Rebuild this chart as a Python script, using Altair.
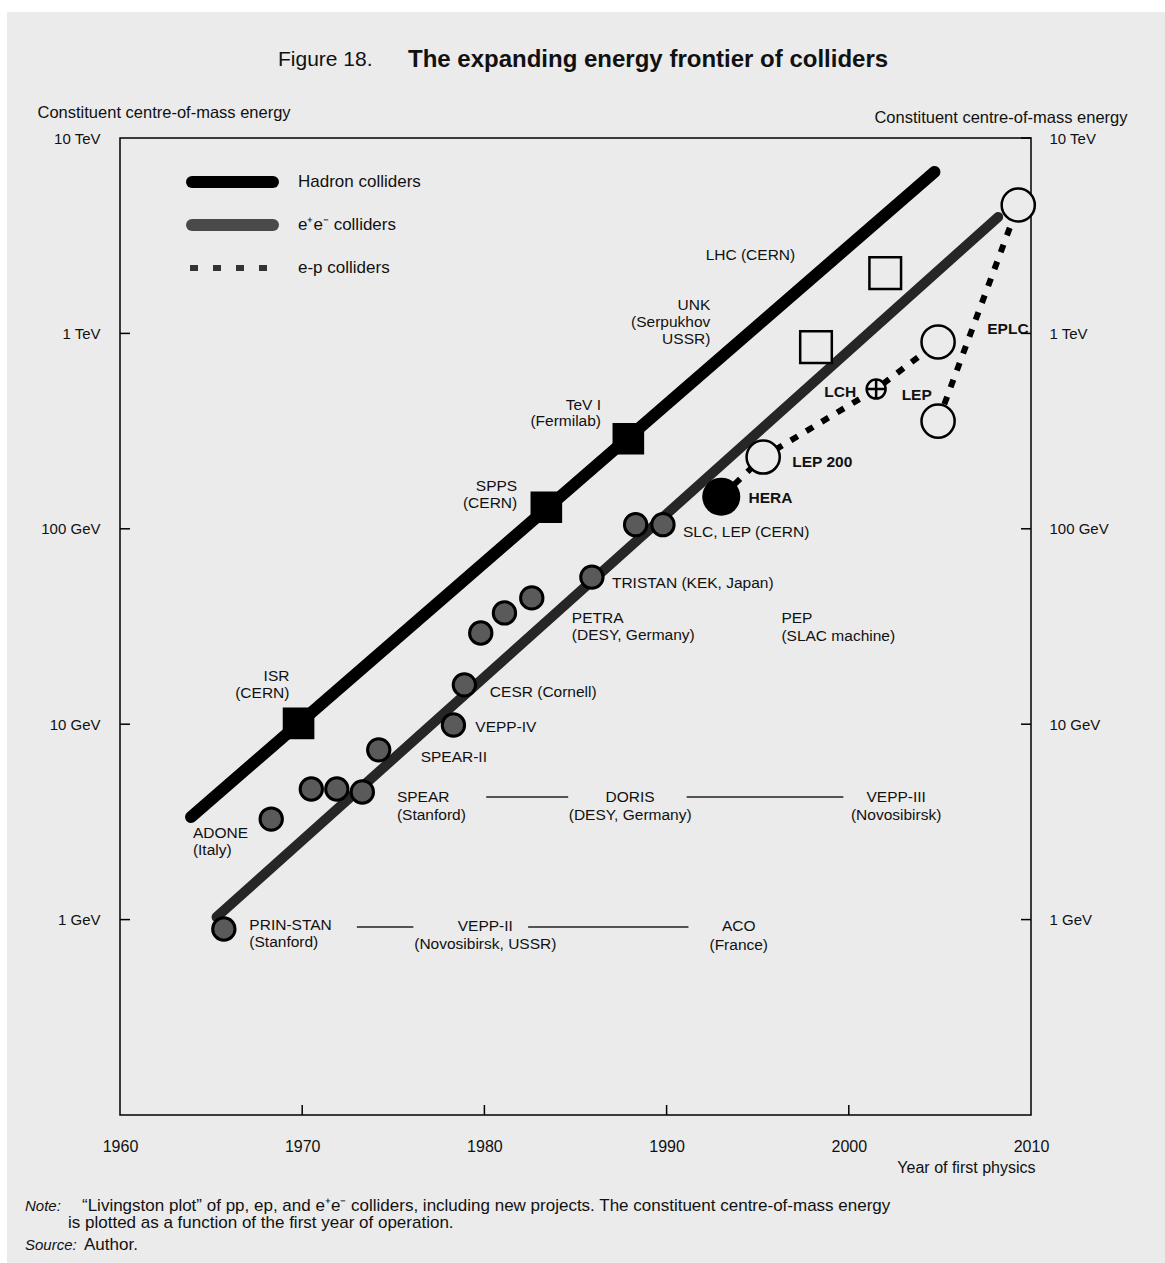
import altair as alt
import pandas as pd

BG = "#ebebeb"
FONT = "Liberation Sans"

# ---------------- data ----------------
# Hadron colliders (built)
hadron_names = ["ISR", "SPPS", "TeV I"]
hadron_years = [1969.8, 1983.4, 1987.9]
hadron_energy = [10.1, 129, 289]
# Hadron colliders (projects)
hadron_proj_names = ["UNK", "LHC"]
hadron_proj_years = [1998.2, 2002.0]
hadron_proj_energy = [851, 2036]
# Hadron trend line
hadron_trend_years = [1963.9, 2004.7]
hadron_trend_energy = [3.35, 6700]

# e+e- colliders
ee_names = ["PRIN-STAN", "ADONE", "ACO/VEPP-II", "VEPP-III", "SPEAR", "SPEAR-II",
            "VEPP-IV", "CESR", "PETRA a", "PETRA b", "PETRA c", "TRISTAN", "SLC", "LEP"]
ee_years = [1965.7, 1968.3, 1970.5, 1971.9, 1973.3, 1974.2,
            1978.3, 1978.9, 1979.8, 1981.1, 1982.6, 1985.9, 1988.3, 1989.8]
ee_energy = [0.895, 3.27, 4.66, 4.66, 4.5, 7.39,
             9.9, 15.9, 29.3, 37.1, 44.3, 56.6, 105, 105]
# e+e- trend line
ee_trend_years = [1965.3, 2008.2]
ee_trend_energy = [1.03, 3945]

# e-p colliders
hera_year = [1993.0]
hera_energy = [146]
ep_open_names = ["LEP 200", "LEP+LHC upper", "LEP", "EPLC"]
ep_open_years = [1995.3, 2004.9, 2004.9, 2009.3]
ep_open_energy = [233, 904, 356, 4540]
lch_year = [2001.5]
lch_energy = [519]
# dotted e-p paths
ep_path = ["A", "A", "A", "A", "B", "B"]
ep_path_years = [1993.0, 1995.3, 2001.5, 2004.9, 2004.9, 2009.3]
ep_path_energy = [146, 233, 519, 904, 356, 4540]

# Separator rules between collider names
sep_years = [1973.0, 1982.4, 1980.1, 1991.1]
sep_years2 = [1976.1, 1991.2, 1984.6, 1999.7]
sep_energy = [0.916, 0.916, 4.24, 4.24]

# Annotation labels (text, year, energy, align, weight)
labels = [
    ("LHC (CERN)", 1994.6, 2518, "center", "normal"),
    ("UNK", 1992.4, 1390, "right", "normal"),
    ("(Serpukhov", 1992.4, 1143, "right", "normal"),
    ("USSR)", 1992.4, 940, "right", "normal"),
    ("TeV I", 1986.4, 432, "right", "normal"),
    ("(Fermilab)", 1986.4, 355, "right", "normal"),
    ("SPPS", 1981.8, 165, "right", "normal"),
    ("(CERN)", 1981.8, 135, "right", "normal"),
    ("ISR", 1969.3, 17.6, "right", "normal"),
    ("(CERN)", 1969.3, 14.4, "right", "normal"),
    ("ADONE", 1964.0, 2.79, "left", "normal"),
    ("(Italy)", 1964.0, 2.28, "left", "normal"),
    ("PRIN-STAN", 1967.1, 0.938, "left", "normal"),
    ("(Stanford)", 1967.1, 0.767, "left", "normal"),
    ("VEPP-II", 1980.05, 0.927, "center", "normal"),
    ("(Novosibirsk, USSR)", 1980.05, 0.750, "center", "normal"),
    ("ACO", 1993.96, 0.927, "center", "normal"),
    ("(France)", 1993.96, 0.740, "center", "normal"),
    ("SPEAR", 1975.2, 4.24, "left", "normal"),
    ("(Stanford)", 1975.2, 3.43, "left", "normal"),
    ("DORIS", 1988.0, 4.24, "center", "normal"),
    ("(DESY, Germany)", 1988.0, 3.43, "center", "normal"),
    ("VEPP-III", 2002.6, 4.24, "center", "normal"),
    ("(Novosibirsk)", 2002.6, 3.43, "center", "normal"),
    ("SPEAR-II", 1976.5, 6.79, "left", "normal"),
    ("VEPP-IV", 1979.5, 9.68, "left", "normal"),
    ("CESR (Cornell)", 1980.3, 14.6, "left", "normal"),
    ("PETRA", 1984.8, 34.9, "left", "normal"),
    ("(DESY, Germany)", 1984.8, 28.6, "left", "normal"),
    ("PEP", 1996.3, 34.9, "left", "normal"),
    ("(SLAC machine)", 1996.3, 28.2, "left", "normal"),
    ("TRISTAN (KEK, Japan)", 1987.0, 52.9, "left", "normal"),
    ("SLC, LEP (CERN)", 1990.9, 96, "left", "normal"),
    ("HERA", 1994.5, 144, "left", "bold"),
    ("LEP 200", 1996.9, 220, "left", "bold"),
    ("LCH", 2000.4, 501, "right", "bold"),
    ("LEP", 2002.9, 484, "left", "bold"),
    ("EPLC", 2007.6, 1054, "left", "bold"),
]

tick_energies = [1, 10, 100, 1000]
tick_years = [1970, 1980, 1990, 2000]
axis_energies = [1, 10, 100, 1000, 10000]
axis_years = [1960, 1970, 1980, 1990, 2000, 2010]

W, H = 911, 977
PAD = {"left": 120, "top": 138, "right": 134, "bottom": 148}

# ---------------- scales / axes ----------------
XSCALE = alt.Scale(domain=[1960, 2010], nice=False, zero=False)
YSCALE = alt.Scale(type="log", domain=[0.1, 10000], nice=False)
label_expr = "datum.value >= 1000 ? format(datum.value/1000, 'd') + ' TeV' : format(datum.value, 'd') + ' GeV'"

x_axis = alt.Axis(values=axis_years, format="d", ticks=False, domain=False, grid=False, zindex=2,
                  labelFont=FONT, labelFontSize=16, labelColor="#111", labelPadding=23,
                  labelFlush=False, labelOverlap=False,
                  title="Year of first physics", titleFont=FONT, titleFontSize=16,
                  titleFontWeight="normal", titleColor="#111", titleAlign="right",
                  titleX=W + 4, titleY=52, titleBaseline="middle")
y_axis_left = alt.Axis(values=axis_energies, labelExpr=label_expr, ticks=False, domain=False,
                       grid=False, orient="left", zindex=2, labelFont=FONT, labelFontSize=15,
                       labelColor="#111", labelPadding=20, labelFlush=False, labelOverlap=False,
                       title="Constituent centre-of-mass energy", titleFont=FONT,
                       titleFontSize=16.5, titleFontWeight="normal", titleColor="#111",
                       titleAngle=0, titleAlign="left", titleBaseline="middle",
                       titleX=-83, titleY=-26)
y_axis_right = alt.Axis(values=axis_energies, labelExpr=label_expr, ticks=False, domain=False,
                        grid=False, orient="right", zindex=2, labelFont=FONT, labelFontSize=15,
                        labelColor="#111", labelPadding=18, labelFlush=False, labelOverlap=False,
                        title="Constituent centre-of-mass energy", titleFont=FONT,
                        titleFontSize=16.5, titleFontWeight="normal", titleColor="#111",
                        titleAngle=0, titleAlign="right", titleBaseline="middle",
                        titleX=96, titleY=-21)


def X(f="year"):
    return alt.X(f, type="quantitative", scale=XSCALE, axis=x_axis)


def Y(f="energy"):
    return alt.Y(f, type="quantitative", scale=YSCALE, axis=y_axis_left)


one = pd.DataFrame({"k": [0]})

# ---------------- layers ----------------
# scanned page area (white margin at top/left like the scan)
page = alt.Chart(one).mark_rect(fill=BG).encode(
    x=alt.value(7 - PAD["left"]), x2=alt.value(W + PAD["right"]),
    y=alt.value(12 - PAD["top"]), y2=alt.value(H + PAD["bottom"]))
frame = alt.Chart(one).mark_rect(filled=False, stroke="black", strokeWidth=1.5, fill=None).encode(
    x=alt.value(0), x2=alt.value(W), y=alt.value(0), y2=alt.value(H))

hadron_trend = alt.Chart(pd.DataFrame({"year": hadron_trend_years, "energy": hadron_trend_energy})).mark_line(
    color="black", strokeWidth=12, strokeCap="round").encode(x=X(), y=Y())
ee_trend = alt.Chart(pd.DataFrame({"year": ee_trend_years, "energy": ee_trend_energy})).mark_line(
    color="#262626", strokeWidth=10, strokeCap="round").encode(x=X(), y=Y())
ep_lines = alt.Chart(pd.DataFrame({"path": ep_path, "year": ep_path_years, "energy": ep_path_energy})).mark_line(
    color="black", strokeWidth=6, strokeDash=[8, 10]).encode(x=X(), y=Y(), detail="path:N")

hadron_sq = alt.Chart(pd.DataFrame({"name": hadron_names, "year": hadron_years, "energy": hadron_energy})).mark_square(
    filled=True, color="black", size=1000, opacity=1).encode(x=X(), y=Y())
hadron_proj = alt.Chart(pd.DataFrame({"name": hadron_proj_names, "year": hadron_proj_years, "energy": hadron_proj_energy})).mark_square(
    filled=True, fill=BG, stroke="black", strokeWidth=2.5, size=1000, opacity=1).encode(x=X(), y=Y())
ee_pts = alt.Chart(pd.DataFrame({"name": ee_names, "year": ee_years, "energy": ee_energy})).mark_circle(
    fill="#5a5a5a", stroke="black", strokeWidth=3, size=500, opacity=1).encode(x=X(), y=Y())
hera = alt.Chart(pd.DataFrame({"year": hera_year, "energy": hera_energy})).mark_circle(
    color="black", size=1450, opacity=1).encode(x=X(), y=Y())
ep_open = alt.Chart(pd.DataFrame({"name": ep_open_names, "year": ep_open_years, "energy": ep_open_energy})).mark_circle(
    fill=BG, stroke="black", strokeWidth=2.5, size=1100, opacity=1).encode(x=X(), y=Y())
lch_circle = alt.Chart(pd.DataFrame({"year": lch_year, "energy": lch_energy})).mark_circle(
    fill=BG, stroke="black", strokeWidth=2.5, size=360, opacity=1).encode(x=X(), y=Y())
lch_cross = alt.Chart(pd.DataFrame({"year": lch_year, "energy": lch_energy})).mark_point(
    shape="M-1,0L1,0M0,-1L0,1", filled=False, stroke="black", strokeWidth=2.5, size=360, opacity=1).encode(x=X(), y=Y())

seps = alt.Chart(pd.DataFrame({"year": sep_years, "year2": sep_years2, "energy": sep_energy})).mark_rule(
    color="#222", strokeWidth=1.5).encode(x=X(), x2="year2:Q", y=Y())

lab_df = pd.DataFrame(labels, columns=["text", "year", "energy", "align", "weight"])
text_layers = []
for (al, wt), sub in lab_df.groupby(["align", "weight"]):
    text_layers.append(
        alt.Chart(sub).mark_text(align=al, baseline="middle", font=FONT, fontSize=15.5,
                                 fontWeight=wt, color="#111").encode(x=X(), y=Y(), text="text:N"))

left_ticks = alt.Chart(pd.DataFrame({"energy": tick_energies})).mark_rule(color="black", strokeWidth=1.5).encode(
    y=Y(), x=alt.value(0), x2=alt.value(10))
bottom_ticks = alt.Chart(pd.DataFrame({"year": tick_years})).mark_rule(color="black", strokeWidth=1.5).encode(
    x=X(), y=alt.value(H), y2=alt.value(H - 10))

# legend
leg_h = alt.Chart(one).mark_rule(color="black", strokeWidth=12, strokeCap="round").encode(
    x=alt.value(72), x2=alt.value(153), y=alt.value(44))
leg_e = alt.Chart(one).mark_rule(color="#4a4a4a", strokeWidth=12, strokeCap="round").encode(
    x=alt.value(72), x2=alt.value(153), y=alt.value(87))
leg_p = alt.Chart(one).mark_rule(color="#333", strokeWidth=6, strokeDash=[8, 15]).encode(
    x=alt.value(70), x2=alt.value(155), y=alt.value(130))
leg_text = alt.Chart(pd.DataFrame({"t": ["Hadron colliders", "e\u207ae\u207b colliders", "e-p colliders"],
                                   "py": [44, 87, 130]})).mark_text(
    align="left", baseline="middle", font=FONT, fontSize=17, color="#111").encode(
    x=alt.value(178), y=alt.Y("py:Q", scale=None), text="t:N")

# page texts (title and notes)
title1 = alt.Chart(one).mark_text(align="left", baseline="middle", font=FONT, fontSize=21, color="#111").encode(
    x=alt.value(158), y=alt.value(-78), text=alt.value("Figure 18."))
title2 = alt.Chart(one).mark_text(align="left", baseline="middle", font=FONT, fontSize=24, fontWeight="bold",
                                  color="#111").encode(
    x=alt.value(288), y=alt.value(-78), text=alt.value("The expanding energy frontier of colliders"))
note_it = alt.Chart(pd.DataFrame({"t": ["Note:", "Source:"], "py": [1068, 1107]})).mark_text(
    align="left", baseline="middle", font=FONT, fontSize=15, fontStyle="italic", color="#111").encode(
    x=alt.value(-95), y=alt.Y("py:Q", scale=None), text="t:N")
note_txt = alt.Chart(pd.DataFrame({
    "t": ["\u201cLivingston plot\u201d of pp, ep, and e\u207ae\u207b colliders, including new projects. The constituent centre-of-mass energy",
          "is plotted as a function of the first year of operation.",
          "Author."],
    "px": [-38, -52, -36], "py": [1068, 1085, 1107]})).mark_text(
    align="left", baseline="middle", font=FONT, fontSize=17, color="#111").encode(
    x=alt.X("px:Q", scale=None), y=alt.Y("py:Q", scale=None), text="t:N")

main = alt.layer(
    page, frame,
    left_ticks, bottom_ticks, seps,
    hadron_trend, ee_trend, ep_lines,
    hadron_sq, hadron_proj, ee_pts, hera, ep_open, lch_circle, lch_cross,
    *text_layers,
    leg_h, leg_e, leg_p, leg_text,
    title1, title2, note_it, note_txt,
)

right_ticks = alt.Chart(pd.DataFrame({"energy": tick_energies + [10000]})).mark_rule(
    color="black", strokeWidth=1.5).encode(
    y=alt.Y("energy:Q", scale=YSCALE, axis=y_axis_right), x=alt.value(W - 10), x2=alt.value(W))

chart = alt.layer(main, right_ticks).resolve_scale(y="independent").properties(
    width=W, height=H,
    background="white",
    padding=PAD,
    autosize=alt.AutoSizeParams(type="none"),
).configure_view(stroke=None)

chart.save("out.html", embed_options={"renderer": "svg", "actions": False})
